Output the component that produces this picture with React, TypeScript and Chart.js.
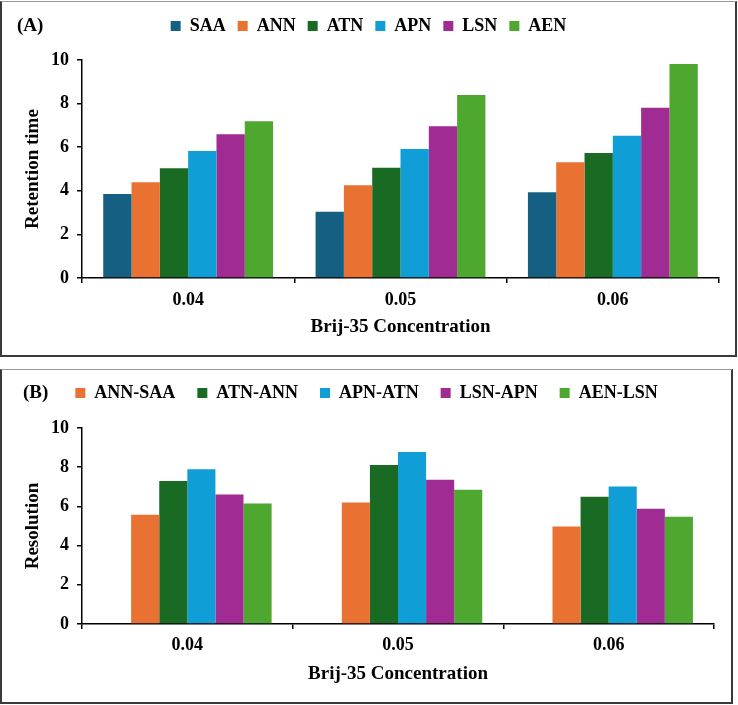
import React, { useEffect, useRef } from 'react';
import { Chart, registerables } from 'chart.js';

Chart.register(...registerables);

// ---------- data ----------
const categories = ['0.04', '0.05', '0.06'];

const seriesA = ['SAA', 'ANN', 'ATN', 'APN', 'LSN', 'AEN'];
const saa = [3.85, 3.04, 3.93];
const ann = [4.39, 4.25, 5.31];
const atn = [5.03, 5.06, 5.73];
const apn = [5.83, 5.92, 6.53];
const lsn = [6.59, 6.96, 7.81];
const aen = [7.19, 8.39, 9.82];

const seriesB = ['ANN-SAA', 'ATN-ANN', 'APN-ATN', 'LSN-APN', 'AEN-LSN'];
const annSaa = [5.57, 6.2, 4.97];
const atnAnn = [7.29, 8.11, 6.49];
const apnAtn = [7.9, 8.77, 7.02];
const lsnApn = [6.61, 7.36, 5.88];
const aenLsn = [6.15, 6.85, 5.47];

const yMin = 0;
const yMax = 10;
const yStep = 2;

const colors = ['#156082', '#E97132', '#196B24', '#0F9ED5', '#A02B93', '#4EA72E'];

const FONT = "'Liberation Serif', 'Times New Roman', serif";

// ---------- helpers ----------
function legendHeightPlugin(h: number) {
  return {
    id: 'legendHeight',
    beforeInit(chart: any) {
      const lg = chart.legend;
      if (lg && !lg.__patched) {
        const orig = lg.fit;
        lg.fit = function () {
          orig.call(this);
          this.height = h;
        };
        lg.__patched = true;
      }
    },
  };
}

function panelLabelPlugin(text: string, x: number, y: number) {
  return {
    id: 'panelLabel',
    afterDraw(chart: any) {
      const ctx = chart.ctx;
      ctx.save();
      ctx.font = `bold 19px ${FONT}`;
      ctx.fillStyle = '#000';
      ctx.textAlign = 'left';
      ctx.textBaseline = 'middle';
      ctx.fillText(text, x, y);
      ctx.restore();
    },
  };
}

interface PanelParams {
  datasets: any[];
  padLeft: number;
  padRight: number;
  padTop: number;
  legendPad: number;
  legendHeight: number;
  yWidth: number;
  xHeight: number;
  yTitle: string;
  yTitlePad: number;
  xTickPad: number;
  label: string;
  labelX: number;
  labelY: number;
}

function buildConfig(p: PanelParams): any {
  const tickFont = { family: FONT, size: 18, weight: 'bold' as const };
  const titleFont = { family: FONT, size: 19, weight: 'bold' as const };
  const grid = {
    display: true,
    drawOnChartArea: false,
    drawTicks: true,
    tickLength: 5,
    color: '#000',
    lineWidth: 1.5,
  };
  const border = { display: true, color: '#000', width: 1.5 };
  return {
    type: 'bar',
    data: { labels: categories, datasets: p.datasets },
    options: {
      responsive: false,
      animation: false,
      devicePixelRatio: 1,
      layout: { padding: { top: p.padTop, left: p.padLeft, right: p.padRight, bottom: 0 } },
      datasets: { bar: { categoryPercentage: 0.8, barPercentage: 1, borderWidth: 0 } },
      plugins: {
        legend: {
          position: 'top',
          labels: {
            boxWidth: 10,
            boxHeight: 10,
            padding: p.legendPad,
            color: '#000',
            font: tickFont,
            filter: (it: any) => it.text !== '',
          },
        },
        tooltip: { enabled: false },
      },
      scales: {
        x: {
          grid: { ...grid, offset: true },
          border,
          ticks: { color: '#000', font: tickFont, padding: p.xTickPad },
          title: {
            display: true,
            text: 'Brij-35 Concentration',
            color: '#000',
            font: titleFont,
            padding: { top: 0, bottom: 17 },
          },
          afterFit: (s: any) => {
            s.height = p.xHeight;
          },
        },
        y: {
          min: yMin,
          max: yMax,
          ticks: { stepSize: yStep, color: '#000', font: tickFont, padding: 8 },
          grid,
          border,
          title: {
            display: true,
            text: p.yTitle,
            color: '#000',
            font: titleFont,
            padding: { top: p.yTitlePad, bottom: 0 },
          },
          afterFit: (s: any) => {
            s.width = p.yWidth;
          },
        },
      },
    },
    plugins: [legendHeightPlugin(p.legendHeight), panelLabelPlugin(p.label, p.labelX, p.labelY)],
  };
}

function ChartCanvas({ params, width, height }: { params: PanelParams; width: number; height: number }) {
  const ref = useRef<HTMLCanvasElement>(null);
  useEffect(() => {
    if (!ref.current) return;
    const chart = new Chart(ref.current, buildConfig(params));
    return () => chart.destroy();
  }, []);
  return <canvas ref={ref} width={width} height={height} style={{ display: 'block', width, height }} />;
}

const valuesA = [saa, ann, atn, apn, lsn, aen];
const valuesB = [annSaa, atnAnn, apnAtn, lsnApn, aenLsn];

const datasetsA = seriesA.map((name, i) => ({
  label: name,
  data: valuesA[i],
  backgroundColor: colors[i],
}));

const datasetsB = [
  { label: '', data: [null, null, null], backgroundColor: colors[0] },
  ...seriesB.map((name, i) => ({
    label: name,
    data: valuesB[i],
    backgroundColor: colors[i + 1],
  })),
];

const paramsA: PanelParams = {
  datasets: datasetsA,
  padLeft: 16,
  padRight: 16,
  padTop: 3,
  legendPad: 12,
  legendHeight: 55,
  yWidth: 64,
  xHeight: 77,
  yTitle: 'Retention time',
  yTitlePad: 4,
  xTickPad: 7,
  label: '(A)',
  labelX: 15,
  labelY: 24,
};

const paramsB: PanelParams = {
  datasets: datasetsB,
  padLeft: 17,
  padRight: 17,
  padTop: -8,
  legendPad: 22,
  legendHeight: 66,
  yWidth: 63,
  xHeight: 78,
  yTitle: 'Resolution',
  yTitlePad: 3,
  xTickPad: 6,
  label: '(B)',
  labelX: 21,
  labelY: 23,
};

const boxStyle = (top: number, width: number, height: number): React.CSSProperties => ({
  position: 'absolute',
  left: 0,
  top,
  width,
  height,
  boxSizing: 'border-box',
  borderTop: '1px solid #9a9a9a',
  borderLeft: '2px solid #3a3a3a',
  borderRight: '2px solid #3a3a3a',
  borderBottom: '2px solid #3a3a3a',
  background: '#fff',
});

export default function App() {
  return (
    <div style={{ position: 'absolute', left: 0, top: 0, width: 738, height: 705, background: '#fff' }}>
      <div style={boxStyle(1, 737, 356)}>
        <ChartCanvas params={paramsA} width={733} height={353} />
      </div>
      <div style={boxStyle(369, 733, 335)}>
        <ChartCanvas params={paramsB} width={729} height={332} />
      </div>
    </div>
  );
}
